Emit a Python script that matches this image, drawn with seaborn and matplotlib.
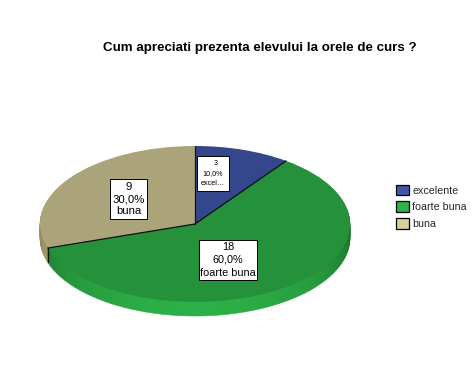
import colorsys
import matplotlib
matplotlib.use('Agg')
import matplotlib.pyplot as plt
from matplotlib.patches import Patch
import numpy as np
import seaborn as sns

# data
categories = ['excelente', 'foarte buna', 'buna']
box_names = ['excel\u2026', 'foarte buna', 'buna']
box_counts = ['   3', '18', '9']
counts = [3, 18, 9]
percents = ['10,0%', '60,0%', '30,0%']
title = 'Cum apreciati prezenta elevului la orele de curs ?'

top_colors = sns.color_palette(['#35478c', '#25923b', '#aba47a'])
legend_colors = sns.color_palette(['#3f57a8', '#2bb34c', '#d8d0a0'])

sns.set_theme(style='white')
plt.rcParams['font.family'] = ['Liberation Sans', 'DejaVu Sans']

W, H = 476, 380
cx, cy, rx, ry, depth = 195, 224, 155, 78, 14

fig = plt.figure(figsize=(W / 100, H / 100), dpi=100, facecolor='white')
ax = fig.add_axes([0, 0, 1, 1])


def shaded(color, angle):
    # side wall is brightest at the front, darker towards both ends
    front = max(0.0, -np.cos(angle))
    h, l, s = colorsys.rgb_to_hls(*color)
    return colorsys.hls_to_rgb(h, l * (0.78 + 0.42 * front), s)


# side wall: same slices, cut into thin parts so they can be shaded
parts, part_colors = [], []
total = sum(counts)
start = 0
for n, col in zip(counts, top_colors):
    k = n * 4
    for i in range(k):
        mid = (start + (i + 0.5) * n / k) / total * 2 * np.pi
        parts.append(n / k)
        # mid is clockwise from the top
        part_colors.append(shaded(col, mid))
    start += n

for d in range(depth, 0, -1):
    wedges, _ = ax.pie(parts, colors=part_colors, startangle=90, counterclock=False,
                       center=(0, -d / ry), wedgeprops={'linewidth': 0})
    for w in wedges:
        w.set_edgecolor(w.get_facecolor())
        w.set_linewidth(0.4)

# top surface
ax.pie(counts, colors=top_colors, startangle=90, counterclock=False,
       wedgeprops={'linewidth': 0.3, 'edgecolor': 'none'})

# slice borders
edges = np.cumsum([0] + counts[:-1]) / total * 2 * np.pi
for a in edges:
    ax.plot([0, np.sin(a)], [0, np.cos(a)], color='#101010', lw=0.9, zorder=5)
a = edges[2]
ax.plot([np.sin(a), np.sin(a)], [np.cos(a), np.cos(a) - depth / ry],
        color='#101010', lw=0.9, zorder=5)

ax.set_aspect('auto')
ax.set_xlim(-cx / rx, (W - cx) / rx)
ax.set_ylim((cy - H) / ry, cy / ry)
ax.set_frame_on(False)
ax.set_xticks([])
ax.set_yticks([])

# slice label boxes
box_pos = [(213, 173.5), (228, 260), (128.5, 199)]
box_size = [5.2, 7.8, 8.2]
box_pad = [0.55, 0.14, 0.22]
box_spacing = [1.6, 1.38, 1.25]
for i, (x, y) in enumerate(box_pos):
    fig.text(x / W, 1 - y / H, f'{box_counts[i]}\n{percents[i]}\n{box_names[i]}',
             ha='center', va='center', fontsize=box_size[i], color='black',
             linespacing=box_spacing[i], zorder=10,
             bbox={'boxstyle': f'square,pad={box_pad[i]}',
                   'facecolor': 'white', 'edgecolor': 'black', 'linewidth': 0.7})

fig.text(260 / W, 1 - 47.5 / H, title, ha='center', va='center',
         fontsize=9.6, fontweight='bold', color='black')

handles = [Patch(facecolor=c, edgecolor='black', linewidth=0.9) for c in legend_colors]
fig.legend(handles, categories, loc='upper left', bbox_to_anchor=(396 / W, 1 - 184.5 / H),
           frameon=False, fontsize=7.7, handlelength=1.2, handleheight=1.2,
           handletextpad=0.3, labelspacing=0.52, borderpad=0, borderaxespad=0)

fig.savefig('out.png', dpi=100, facecolor='white')
